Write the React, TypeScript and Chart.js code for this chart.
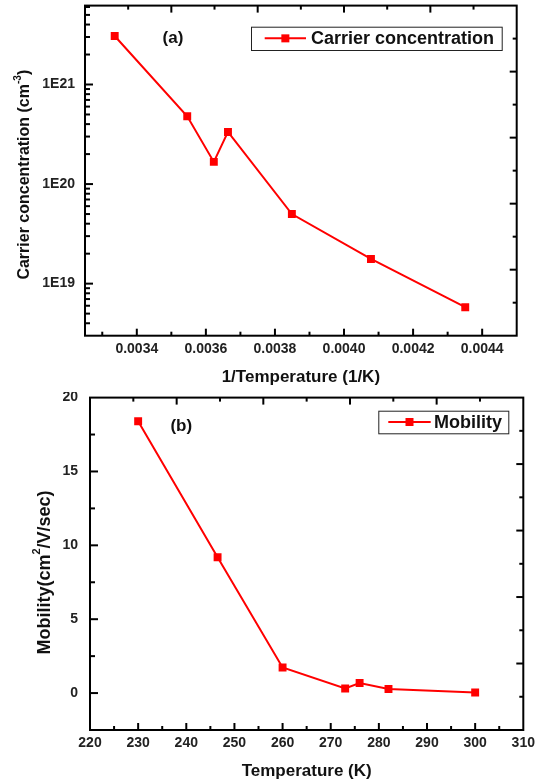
import { useEffect, useRef } from 'react';
import { Chart, registerables } from 'chart.js';

Chart.register(...registerables);

// ---------- Data: panel (a) ----------
const invTemperature = [0.003336, 0.003546, 0.003623, 0.003664, 0.003849, 0.004078, 0.004351];
const carrierConcentration = [3.07e21, 4.8e20, 1.67e20, 3.34e20, 5.0e19, 1.77e19, 5.8e18];
const invTempTicks = [0.0034, 0.0036, 0.0038, 0.004, 0.0042, 0.0044];
const invTempMinor = [0.0033, 0.0035, 0.0037, 0.0039, 0.0041, 0.0043];
const concTicks = [1e19, 1e20, 1e21];

// ---------- Data: panel (b) ----------
const temperature = [230, 246.5, 260, 273, 276, 282, 300];
const mobility = [18.4, 9.19, 1.73, 0.31, 0.68, 0.27, 0.04];
const tempTicks = [220, 230, 240, 250, 260, 270, 280, 290, 300, 310];
const tempMinor = [225, 235, 245, 255, 265, 275, 285, 295, 305];
const mobilityTicks = [0, 5, 10, 15, 20];
const mobilityMinor = [2.5, 7.5, 12.5, 17.5];

const FONT = '"Liberation Sans", Arial, Helvetica, sans-serif';
const RED = '#ff0000';

function logMinor(min: number, max: number) {
  const out: number[] = [];
  for (let d = Math.floor(Math.log10(min)); d <= Math.ceil(Math.log10(max)); d++) {
    for (let m = 2; m <= 9; m++) {
      const v = m * Math.pow(10, d);
      if (v > min && v < max) out.push(v);
    }
  }
  return out;
}

type Part = { t: string; sup?: boolean };

function drawRich(ctx: CanvasRenderingContext2D, parts: Part[], cx: number, cy: number, size: number, vertical: boolean) {
  ctx.save();
  ctx.translate(cx, cy);
  if (vertical) ctx.rotate(-Math.PI / 2);
  const main = `bold ${size}px ${FONT}`;
  const small = `bold ${Math.round(size * 0.62)}px ${FONT}`;
  let total = 0;
  const widths = parts.map((p) => {
    ctx.font = p.sup ? small : main;
    const w = ctx.measureText(p.t).width;
    total += w;
    return w;
  });
  let x = -total / 2;
  ctx.textBaseline = 'middle';
  ctx.textAlign = 'left';
  ctx.fillStyle = '#111';
  parts.forEach((p, i) => {
    ctx.font = p.sup ? small : main;
    ctx.fillText(p.t, x, p.sup ? -size * 0.42 : 0);
    x += widths[i];
  });
  ctx.restore();
}

const originFrame = {
  id: 'originFrame',
  afterDraw(chart: any, _args: any, opts: any) {
    const { ctx, chartArea: a } = chart;
    const xs = chart.scales.x;
    const ys = chart.scales.y;
    ctx.save();
    ctx.strokeStyle = '#000';
    ctx.lineWidth = 2;
    const seg = (x1: number, y1: number, x2: number, y2: number) => {
      ctx.beginPath();
      ctx.moveTo(x1, y1);
      ctx.lineTo(x2, y2);
      ctx.stroke();
    };
    ctx.strokeRect(a.left, a.top, a.right - a.left, a.bottom - a.top);
    const inside = (p: number, lo: number, hi: number) => p > lo + 1 && p < hi - 1;
    opts.xMajor.forEach((v: number) => {
      const p = xs.getPixelForValue(v);
      if (inside(p, a.left, a.right)) seg(p, a.bottom, p, a.bottom - 7);
    });
    opts.xMinor.forEach((v: number) => {
      const p = xs.getPixelForValue(v);
      if (inside(p, a.left, a.right)) seg(p, a.bottom, p, a.bottom - 4);
    });
    opts.yMajor.forEach((v: number) => {
      const p = ys.getPixelForValue(v);
      if (inside(p, a.top, a.bottom)) seg(a.left, p, a.left + 8, p);
    });
    opts.yMinor.forEach((v: number) => {
      const p = ys.getPixelForValue(v);
      if (inside(p, a.top, a.bottom)) seg(a.left, p, a.left + 5, p);
    });
    const w = a.right - a.left;
    const h = a.bottom - a.top;
    for (let k = 1; k < 10; k++) {
      const len = k % 2 === 0 ? 7 : 4;
      const x = a.left + (k * w) / 10;
      seg(x, a.top, x, a.top + len);
      const y = a.top + (k * h) / 10;
      seg(a.right, y, a.right - len, y);
    }

    // legend
    const L = opts.legend;
    ctx.lineWidth = 1;
    ctx.strokeStyle = '#222';
    ctx.fillStyle = '#fff';
    ctx.fillRect(L.left, L.top, L.width, L.height);
    ctx.strokeRect(L.left + 0.5, L.top + 0.5, L.width, L.height);
    const cy = L.top + L.height / 2;
    ctx.strokeStyle = RED;
    ctx.lineWidth = 2;
    seg(L.left + L.lineStart, cy, L.left + L.lineEnd, cy);
    ctx.fillStyle = RED;
    const mc = L.left + (L.lineStart + L.lineEnd) / 2;
    ctx.fillRect(mc - 4, cy - 4, 8, 8);
    ctx.fillStyle = '#111';
    ctx.font = `bold 18px ${FONT}`;
    ctx.textBaseline = 'middle';
    ctx.textAlign = 'left';
    ctx.fillText(L.label, L.left + L.textStart, cy + 1);

    // panel label
    ctx.font = `bold 17px ${FONT}`;
    ctx.textAlign = 'center';
    ctx.fillText(opts.panel.text, opts.panel.x, opts.panel.y);

    // axis titles
    drawRich(ctx, opts.xTitle.parts, (a.left + a.right) / 2, opts.xTitle.y, opts.xTitle.size, false);
    drawRich(ctx, opts.yTitle.parts, opts.yTitle.x, opts.yTitle.y, opts.yTitle.size, true);
    ctx.restore();
  },
};

const tickFont = { family: FONT, size: 14, weight: 'bold' as const };

function fixX(h: number) {
  return (s: any) => {
    s.height = h;
    s.paddingLeft = 0;
    s.paddingRight = 0;
  };
}
function fixY(w: number) {
  return (s: any) => {
    s.width = w;
    s.paddingTop = 0;
    s.paddingBottom = 0;
  };
}

function makeConfigA(): any {
  const yMin = 3e18;
  const yMax = 6.2e21;
  return {
    type: 'line',
    data: {
      datasets: [
        {
          label: 'Carrier concentration',
          data: invTemperature.map((x, i) => ({ x, y: carrierConcentration[i] })),
          borderColor: RED,
          backgroundColor: RED,
          borderWidth: 2,
          pointStyle: 'rect',
          pointRadius: 5.6,
          pointBorderWidth: 0,
          pointBackgroundColor: RED,
          tension: 0,
        },
      ],
    },
    options: {
      responsive: false,
      animation: false,
      devicePixelRatio: 1,
      layout: { padding: { top: 4, right: 22.3, left: 0, bottom: 0 } },
      plugins: {
        legend: { display: false },
        tooltip: { enabled: false },
        originFrame: {
          xMajor: invTempTicks,
          xMinor: invTempMinor,
          yMajor: concTicks,
          yMinor: logMinor(yMin, yMax),
          legend: { left: 251, top: 26.7, width: 250.7, height: 23.3, lineStart: 13.7, lineEnd: 55, textStart: 60, label: 'Carrier concentration' },
          panel: { text: '(a)', x: 173, y: 38 },
          xTitle: { parts: [{ t: '1/Temperature (1/K)' }], y: 377.5, size: 17 },
          yTitle: { parts: [{ t: 'Carrier concentration (cm' }, { t: '-3', sup: true }, { t: ')' }], x: 25, y: 174.7, size: 16 },
        },
      },
      scales: {
        x: {
          type: 'linear',
          min: 0.00325,
          max: 0.0045,
          grid: { display: false, drawTicks: false },
          border: { display: false },
          afterBuildTicks: (s: any) => {
            s.ticks = invTempTicks.map((v) => ({ value: v }));
          },
          afterFit: fixX(56.3),
          ticks: {
            autoSkip: false,
            maxRotation: 0,
            padding: 5,
            color: '#222',
            font: tickFont,
            callback: (v: any) => Number(v).toFixed(4),
          },
        },
        y: {
          type: 'logarithmic',
          min: yMin,
          max: yMax,
          grid: { display: false, drawTicks: false },
          border: { display: false },
          afterBuildTicks: (s: any) => {
            s.ticks = concTicks.map((v) => ({ value: v, major: true }));
          },
          afterFit: fixY(85),
          ticks: {
            autoSkip: false,
            padding: 10,
            color: '#222',
            font: tickFont,
            callback: (v: any) => '1E' + Math.round(Math.log10(Number(v))),
          },
        },
      },
    },
    plugins: [originFrame],
  };
}

function makeConfigB(): any {
  return {
    type: 'line',
    data: {
      datasets: [
        {
          label: 'Mobility',
          data: temperature.map((x, i) => ({ x, y: mobility[i] })),
          borderColor: RED,
          backgroundColor: RED,
          borderWidth: 2,
          pointStyle: 'rect',
          pointRadius: 5.6,
          pointBorderWidth: 0,
          pointBackgroundColor: RED,
          tension: 0,
        },
      ],
    },
    options: {
      responsive: false,
      animation: false,
      devicePixelRatio: 1,
      layout: { padding: { top: 5.3, right: 15.7, left: 0, bottom: 0 } },
      plugins: {
        legend: { display: false },
        tooltip: { enabled: false },
        originFrame: {
          xMajor: tempTicks,
          xMinor: tempMinor,
          yMajor: mobilityTicks,
          yMinor: mobilityMinor,
          legend: { left: 378.3, top: 18.7, width: 130, height: 22.6, lineStart: 10, lineEnd: 52.4, textStart: 55.7, label: 'Mobility' },
          panel: { text: '(b)', x: 181.3, y: 34.7 },
          xTitle: { parts: [{ t: 'Temperature (K)' }], y: 379, size: 17 },
          yTitle: { parts: [{ t: 'Mobility(cm' }, { t: '2', sup: true }, { t: '/V/sec)' }], x: 45, y: 180.5, size: 18 },
        },
      },
      scales: {
        x: {
          type: 'linear',
          min: 220,
          max: 310,
          grid: { display: false, drawTicks: false },
          border: { display: false },
          afterBuildTicks: (s: any) => {
            s.ticks = tempTicks.map((v) => ({ value: v }));
          },
          afterFit: fixX(54),
          ticks: {
            autoSkip: false,
            maxRotation: 0,
            padding: 5,
            color: '#222',
            font: tickFont,
            callback: (v: any) => String(v),
          },
        },
        y: {
          type: 'linear',
          min: -2.5,
          max: 20,
          grid: { display: false, drawTicks: false },
          border: { display: false },
          afterBuildTicks: (s: any) => {
            s.ticks = mobilityTicks.map((v) => ({ value: v }));
          },
          afterFit: fixY(90),
          ticks: {
            autoSkip: false,
            padding: 12,
            color: '#222',
            font: tickFont,
            callback: (v: any) => String(v),
          },
        },
      },
    },
    plugins: [originFrame],
  };
}

export default function App() {
  const refA = useRef<HTMLCanvasElement | null>(null);
  const refB = useRef<HTMLCanvasElement | null>(null);

  useEffect(() => {
    const a = new Chart(refA.current as HTMLCanvasElement, makeConfigA());
    const b = new Chart(refB.current as HTMLCanvasElement, makeConfigB());
    return () => {
      a.destroy();
      b.destroy();
    };
  }, []);

  return (
    <div style={{ position: 'absolute', left: 0, top: 0, width: 539, height: 784, background: '#fff' }}>
      <canvas ref={refA} width={539} height={392} style={{ position: 'absolute', left: 0, top: 0, width: 539, height: 392 }} />
      <canvas ref={refB} width={539} height={392} style={{ position: 'absolute', left: 0, top: 392, width: 539, height: 392 }} />
    </div>
  );
}
